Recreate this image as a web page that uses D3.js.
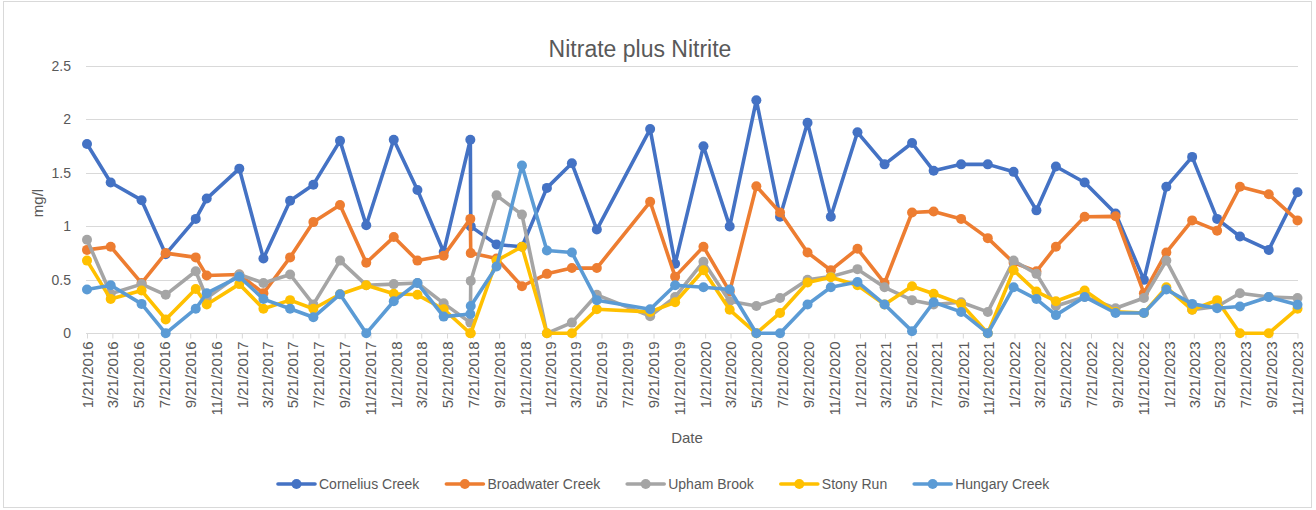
<!DOCTYPE html>
<html>
<head>
<meta charset="utf-8">
<script src="https://cdn.jsdelivr.net/npm/d3@7/dist/d3.min.js"></script>
<style>
  body { margin: 0; background: #fff; }
  text { font-family: "Liberation Sans", Arial, sans-serif; fill: #595959; }
</style>
</head>
<body>
<svg id="chart" width="1316" height="510"></svg>
<script>
// ---- data ----
const sampleDates = [
  "2016-01-21","2016-03-17","2016-05-29","2016-07-25","2016-10-04","2016-10-30",
  "2017-01-15","2017-03-13","2017-05-15","2017-07-09","2017-09-10","2017-11-11",
  "2018-01-15","2018-03-12","2018-05-13","2018-07-15","2018-07-16","2018-09-15","2018-11-14",
  "2019-01-12","2019-03-12","2019-05-10","2019-09-13","2019-11-11",
  "2020-01-17","2020-03-19","2020-05-21","2020-07-16","2020-09-19","2020-11-13",
  "2021-01-15","2021-03-20","2021-05-24","2021-07-14","2021-09-17","2021-11-19",
  "2022-01-19","2022-03-14","2022-04-29","2022-07-06","2022-09-17","2022-11-23",
  "2023-01-15","2023-03-17","2023-05-15","2023-07-08","2023-09-14","2023-11-21"
];
const corneliusCreek = [
  1.77,1.41,1.245,0.74,1.07,1.26,
  1.54,0.70,1.24,1.39,1.80,1.01,
  1.81,1.34,0.76,1.81,1.00,0.83,0.81,
  1.36,1.59,0.97,1.91,0.65,
  1.75,1.00,2.18,1.09,1.97,1.09,
  1.88,1.58,1.78,1.52,1.58,1.58,
  1.51,1.15,1.56,1.41,1.12,0.50,
  1.37,1.65,1.07,0.905,0.78,1.32
];
const broadwaterCreek = [
  0.78,0.81,0.47,0.75,0.71,0.54,
  0.55,0.375,0.71,1.04,1.20,0.66,
  0.90,0.68,0.725,1.07,0.75,0.70,0.44,
  0.556,0.61,0.61,1.23,0.53,
  0.81,0.39,1.375,1.13,0.756,0.59,
  0.79,0.47,1.13,1.14,1.07,0.89,
  0.66,0.58,0.81,1.09,1.094,0.375,
  0.756,1.056,0.96,1.37,1.30,1.056
];
const uphamBrook = [
  0.875,0.37,0.46,0.36,0.58,0.33,
  0.55,0.47,0.55,0.27,0.68,0.45,
  0.46,0.47,0.28,0.10,0.49,1.29,1.11,
  0.0,0.10,0.36,0.16,0.34,
  0.67,0.30,0.256,0.33,0.50,0.53,
  0.60,0.43,0.31,0.27,0.29,0.20,
  0.68,0.556,0.256,0.34,0.234,0.33,
  0.68,0.22,0.25,0.375,0.34,0.33
];
const stonyRun = [
  0.68,0.32,0.40,0.13,0.415,0.27,
  0.46,0.23,0.31,0.23,0.365,0.45,
  0.37,0.36,0.225,0.0,0.0,0.68,0.81,
  0.0,0.0,0.225,0.20,0.29,
  0.59,0.22,0.0,0.19,0.475,0.525,
  0.45,0.27,0.44,0.37,0.275,0.0,
  0.59,0.39,0.30,0.40,0.20,0.19,
  0.43,0.22,0.31,0.0,0.0,0.23
];
const hungaryCreek = [
  0.41,0.45,0.275,0.0,0.23,0.375,
  0.53,0.32,0.23,0.15,0.365,0.0,
  0.30,0.47,0.156,0.18,0.256,0.625,1.57,
  0.775,0.756,0.31,0.225,0.45,
  0.43,0.41,0.0,0.0,0.27,0.43,
  0.48,0.27,0.02,0.29,0.20,0.0,
  0.43,0.32,0.17,0.34,0.19,0.19,
  0.41,0.275,0.234,0.25,0.34,0.266
];
const seriesNames = ["Cornelius Creek","Broadwater Creek","Upham Brook","Stony Run","Hungary Creek"];
const seriesColors = ["#4472C4","#ED7D31","#A5A5A5","#FFC000","#5B9BD5"];
const yTickValues = [0, 0.5, 1, 1.5, 2, 2.5];
const xAxisStart = "2016-01-21";
const xAxisEnd = "2023-11-21";
const xTickCount = 48; // one label every 2 months
const chartTitle = "Nitrate plus Nitrite";
const xTitle = "Date";
const yTitle = "mg/l";

// ---- drawing ----
const parse = d3.timeParse("%Y-%m-%d");
const seriesValues = [corneliusCreek, broadwaterCreek, uphamBrook, stonyRun, hungaryCreek];
const series = seriesNames.map((name, i) => ({
  name, color: seriesColors[i],
  points: sampleDates.map((d, j) => ({ date: parse(d), v: seriesValues[i][j] }))
}));

const svg = d3.select("#chart");
svg.append("rect").attr("x", 3.5).attr("y", 1.5).attr("width", 1308).attr("height", 506)
  .attr("fill", "#fff").attr("stroke", "#d9d9d9");

const x = d3.scaleTime().domain([parse(xAxisStart), parse(xAxisEnd)]).range([87, 1297.5]);
const y = d3.scaleLinear().domain([0, 2.5]).range([333.3, 66]);

// gridlines
svg.append("g").selectAll("line").data(yTickValues.filter(v => v > 0)).join("line")
  .attr("x1", 86).attr("x2", 1298).attr("y1", d => Math.round(y(d)) + 0.5).attr("y2", d => Math.round(y(d)) + 0.5)
  .attr("stroke", "#d9d9d9").attr("stroke-width", 1);

// y axis labels
const yAxis = svg.append("g").attr("transform", "translate(86,0)")
  .call(d3.axisLeft(y).tickValues(yTickValues).tickSize(0).tickPadding(15).tickFormat(d => String(d)));
yAxis.select(".domain").remove();
yAxis.selectAll("text").style("font-size", "14px").attr("fill", "#595959")
  .style("font-family", '"Liberation Sans", Arial, sans-serif');

// x axis
const start = parse(xAxisStart);
const xTickDates = d3.range(xTickCount).map(i => new Date(start.getFullYear(), start.getMonth() + 2 * i, start.getDate()));
const xAxis = svg.append("g").attr("transform", `translate(0,${Math.round(y(0)) + 0.5})`)
  .call(d3.axisBottom(x).tickValues(xTickDates).tickSize(5).tickSizeOuter(0).tickFormat(d3.timeFormat("%-m/%-d/%Y")));
xAxis.select(".domain").attr("stroke", "#d9d9d9").attr("d", `M86,0H1298`);
xAxis.selectAll(".tick line").attr("stroke", "#d9d9d9");
xAxis.selectAll("text")
  .attr("transform", "rotate(-90)")
  .attr("x", -8).attr("y", 0).attr("dy", "0.35em")
  .style("text-anchor", "end").style("font-size", "15px").attr("fill", "#595959")
  .style("font-family", '"Liberation Sans", Arial, sans-serif');

// lines + markers
const line = d3.line().defined(d => d.v != null).x(d => x(d.date)).y(d => y(d.v));
series.forEach(s => {
  const g = svg.append("g");
  g.append("path").datum(s.points).attr("d", line).attr("fill", "none")
    .attr("stroke", s.color).attr("stroke-width", 3.6).attr("stroke-linejoin", "round").attr("stroke-linecap", "round");
  g.selectAll("circle").data(s.points.filter(d => d.v != null)).join("circle")
    .attr("cx", d => x(d.date)).attr("cy", d => y(d.v)).attr("r", 5).attr("fill", s.color);
});

// titles
svg.append("text").attr("x", 640).attr("y", 57).attr("text-anchor", "middle")
  .style("font-size", "23px").text(chartTitle);
svg.append("text").attr("x", 687).attr("y", 443).attr("text-anchor", "middle")
  .style("font-size", "15px").text(xTitle);
svg.append("text").attr("transform", "translate(43,203) rotate(-90)").attr("text-anchor", "middle")
  .style("font-size", "15px").text(yTitle);

// legend
const legend = svg.append("g");
let lx = 278;
series.forEach(s => {
  const g = legend.append("g");
  g.append("line").attr("x1", lx).attr("x2", lx + 37).attr("y1", 484).attr("y2", 484)
    .attr("stroke", s.color).attr("stroke-width", 3.6).attr("stroke-linecap", "round");
  g.append("circle").attr("cx", lx + 18.5).attr("cy", 484).attr("r", 5).attr("fill", s.color);
  const t = g.append("text").attr("x", lx + 41).attr("y", 484).attr("dy", "0.35em")
    .style("font-size", "14px").text(s.name);
  lx += 41 + t.node().getComputedTextLength() + 27;
});
</script>
</body>
</html>
